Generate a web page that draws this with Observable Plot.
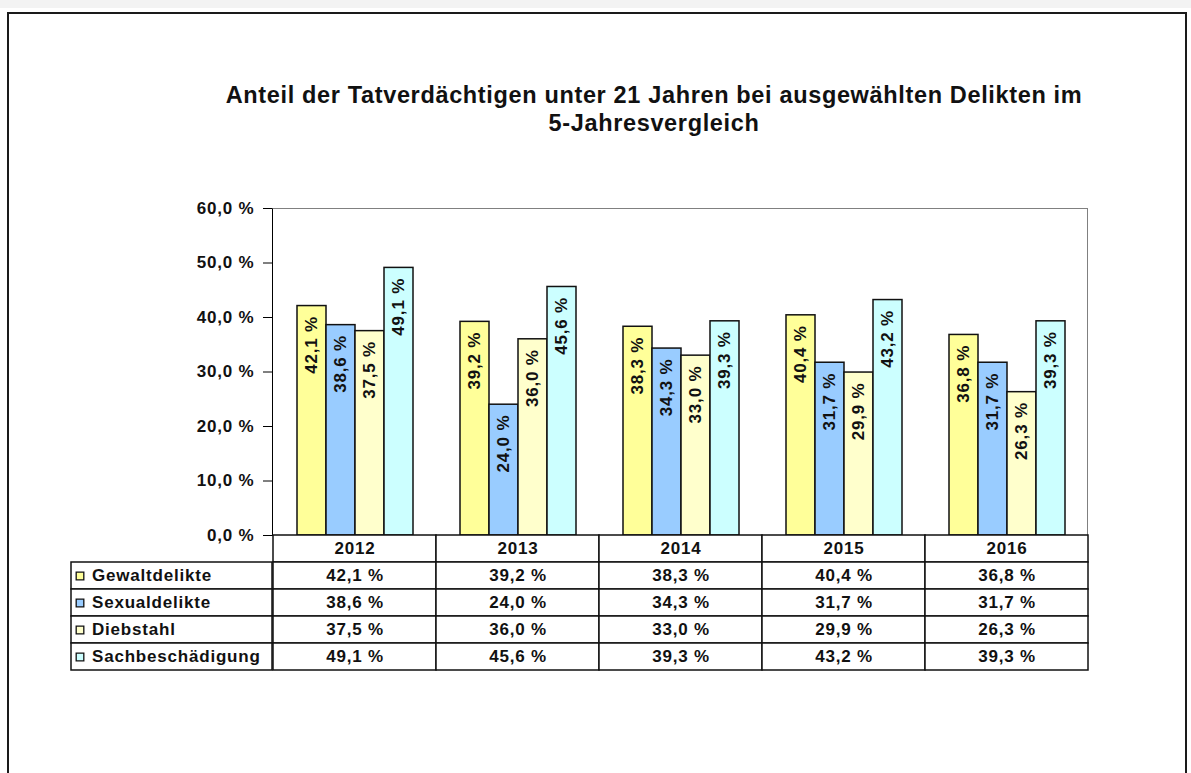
<!DOCTYPE html>
<html>
<head>
<meta charset="utf-8">
<script src="https://cdn.jsdelivr.net/npm/d3@7"></script>
<script src="https://cdn.jsdelivr.net/npm/@observablehq/plot@0.6"></script>
<style>
  html, body { margin: 0; padding: 0; background: #fff; }
  #page { position: relative; width: 1191px; height: 773px; overflow: hidden; background: #fff;
          font-family: "Liberation Sans", Arial, sans-serif; color: #111; }
  #strip { position: absolute; left: 0; top: 0; width: 1191px; height: 8px; background: #f3f3f3; }
  #frame { position: absolute; left: 7px; top: 12px; width: 1180px; height: 820px;
           border: 2px solid #1a1a1a; box-sizing: border-box; }
  #title { position: absolute; left: 204px; top: 81px; width: 900px; text-align: center;
           font-weight: bold; font-size: 23.5px; line-height: 28px; letter-spacing: 0.65px; }
  #bars { position: absolute; left: 0; top: 190px; }
  #table { position: absolute; left: 0; top: 534px; }
  #plotframe { position: absolute; left: 272px; top: 208px; width: 816px; height: 328px;
               border-top: 1px solid #808080; border-right: 1px solid #808080;
               border-left: 1.5px solid #000; box-sizing: border-box; pointer-events: none; }
  svg text { letter-spacing: 0.8px; }
</style>
</head>
<body>
<div id="page">
  <div id="strip"></div>
  <div id="frame"></div>
  <div id="title">Anteil der Tatverdächtigen unter 21 Jahren bei ausgewählten Delikten im<br>5-Jahresvergleich</div>
  <div id="bars"></div>
  <div id="plotframe"></div>
  <div id="table"></div>
</div>
<script>
// ---- data ----
const years = ["2012", "2013", "2014", "2015", "2016"];
const series = ["Gewaltdelikte", "Sexualdelikte", "Diebstahl", "Sachbeschädigung"];
const gewaltdelikte = [42.1, 39.2, 38.3, 40.4, 36.8];
const sexualdelikte = [38.6, 24.0, 34.3, 31.7, 31.7];
const diebstahl = [37.5, 36.0, 33.0, 29.9, 26.3];
const sachbeschaedigung = [49.1, 45.6, 39.3, 43.2, 39.3];
const seriesColors = ["#ffff99", "#99ccff", "#ffffcc", "#ccffff"];
const yTicks = [0, 10, 20, 30, 40, 50, 60];
const headerRow = "Jahr";

const valuesBySeries = [gewaltdelikte, sexualdelikte, diebstahl, sachbeschaedigung];
const rows = [];
years.forEach((year, i) => {
  series.forEach((s, j) => rows.push({year, series: s, value: valuesBySeries[j][i]}));
});
const fmt = v => v.toFixed(1).replace(".", ",") + " %";
const FS = 17;

const style = {fontFamily: "'Liberation Sans', Arial, sans-serif", fontSize: FS + "px",
               fontWeight: "bold", color: "#111", background: "transparent", overflow: "visible"};

// ---- bar chart ----
const bars = Plot.plot({
  width: 1191, height: 350,
  marginLeft: 272, marginRight: 103, marginTop: 18, marginBottom: 5,
  style,
  fx: {domain: years, padding: 0, axis: null, label: null},
  x: {domain: series, paddingInner: 0, paddingOuter: 0.76, axis: null, label: null},
  y: {domain: [0, 60], axis: null, label: null},
  color: {domain: series, range: seriesColors},
  marks: [
    Plot.axisY(yTicks, {tickFormat: fmt, tickSize: 10, tickPadding: 9, stroke: "#000",
                        fontWeight: "bold", fontSize: FS, label: null}),
    Plot.barY(rows, {fx: "year", x: "series", y: "value", fill: "series",
                     stroke: "#111", strokeWidth: 1.5}),
    Plot.text(rows, {fx: "year", x: "series", y: "value", text: d => fmt(d.value),
                     rotate: -90, textAnchor: "end", lineAnchor: "middle", dy: 10,
                     fontWeight: "bold", fontSize: FS, fill: "#111"})
  ]
});
document.getElementById("bars").appendChild(bars);

// ---- data table ----
const table = Plot.plot({
  width: 1191, height: 138,
  marginLeft: 272, marginRight: 103, marginTop: 1, marginBottom: 2,
  style,
  x: {domain: years, padding: 0, axis: null, label: null},
  y: {domain: [headerRow, ...series], padding: 0, axis: null, label: null},
  color: {domain: series, range: seriesColors},
  marks: [
    Plot.cell(years, {x: d => d, y: () => headerRow, fill: "white", stroke: "#111", strokeWidth: 1.5}),
    Plot.text(years, {x: d => d, y: () => headerRow, text: d => d, fill: "#111"}),
    Plot.cell(rows, {x: "year", y: "series", fill: "white", stroke: "#111", strokeWidth: 1.5}),
    Plot.text(rows, {x: "year", y: "series", text: d => fmt(d.value), fill: "#111"}),
    Plot.cell(series, {x: () => years[0], y: d => d, fill: "white", stroke: "#111", strokeWidth: 1.5,
                       insetLeft: -202, insetRight: 164}),
    Plot.dot(series, {x: () => years[0], y: d => d, symbol: "square", r: 4.3, fill: d => d,
                      stroke: "#111", strokeWidth: 1.3, dx: -275}),
    Plot.text(series, {x: () => years[0], y: d => d, text: d => d, textAnchor: "start",
                       dx: -263, fill: "#111"})
  ]
});
document.getElementById("table").appendChild(table);
</script>
</body>
</html>
